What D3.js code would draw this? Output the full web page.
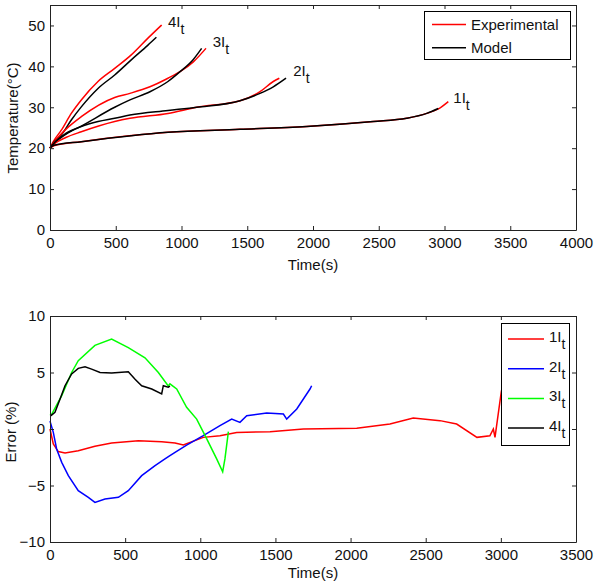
<!DOCTYPE html>
<html><head><meta charset="utf-8">
<script src="https://cdn.jsdelivr.net/npm/d3@7"></script>
<style>
body{margin:0;background:#fff;}
svg{display:block;font-family:"Liberation Sans",Arial,sans-serif;}
</style></head>
<body><svg id="c" width="603" height="586"></svg>
<script>
// ---------- Top chart data: [time (s), temperature (°C)] ----------
const exp4 = [[0,20],[25,21.6],[86,24.4],[162,28.5],[238,31.8],[365,36.3],[492,39.5],[618,42.8],[745,46.9],[849,50.1]];
const mod4 = [[0,20],[25,21.3],[86,23.2],[162,26.9],[238,30.1],[365,34.6],[492,37.9],[618,41.6],[745,45.2],[809,47.1]];
const exp3 = [[0,20],[40,21.8],[120,24.6],[238,27.7],[492,32.4],[608,33.4],[760,35.0],[897,37.1],[989,38.7],[1090,41.1],[1186,44.4]];
const mod3 = [[0,20],[40,21.4],[120,23.4],[238,25.4],[492,30.0],[608,31.8],[760,33.8],[897,36.3],[989,38.7],[1090,41.7],[1153,44.4]];
const exp2 = [[0,20],[40,21.2],[120,22.6],[238,24.0],[492,26.5],[608,27.3],[897,28.5],[1115,30.0],[1445,31.6],[1597,33.8],[1698,36.3],[1744,37.1]];
const mod2 = [[0,20],[40,21.6],[120,23.6],[238,25.3],[365,26.5],[492,27.3],[608,28.1],[897,29.2],[1115,30.0],[1445,31.6],[1597,33.4],[1698,35.0],[1795,37.1]];
const exp1 = [[0,20],[30,20.6],[238,21.6],[897,23.9],[1445,24.6],[1952,25.3],[2459,26.5],[2712,27.3],[2865,28.5],[2953,29.6],[3029,31.4]];
const mod1 = [[0,20],[30,20.7],[238,21.6],[897,23.9],[1445,24.6],[1952,25.3],[2459,26.5],[2712,27.3],[2865,28.5],[2953,29.7]];
const topX = [0,500,1000,1500,2000,2500,3000,3500,4000];
const topY = [0,10,20,30,40,50];
const curveLabels = [["4I",897,49.6],["3I",1237,44.7],["2I",1850,37.7],["1I",3067,31.0]];

// ---------- Bottom chart data: [time (s), error (%)] ----------
const err1 = [[0,0],[22,-1.33],[55,-2.0],[100,-2.12],[188,-1.92],[299,-1.53],[410,-1.24],[588,-1.03],[743,-1.12],[832,-1.24],[887,-1.42],[1020,-0.74],[1131,-0.59],[1242,-0.3],[1464,-0.24],[1686,0],[2041,0.06],[2262,0.44],[2417,0.97],[2595,0.74],[2706,0.44],[2841,-0.74],[2927,-0.6],[2950,0],[2961,-0.74],[3003,3.3],[3030,5]];
const err2 = [[0,0.7],[22,-0.3],[44,-1.77],[78,-2.95],[122,-4.13],[188,-5.46],[255,-6.05],[299,-6.49],[366,-6.19],[455,-6.05],[521,-5.46],[610,-4.13],[699,-3.24],[765,-2.65],[798,-2.36],[832,-2.06],[909,-1.42],[1020,-0.59],[1131,0.3],[1209,0.88],[1264,0.59],[1309,1.18],[1442,1.42],[1553,1.33],[1575,0.88],[1642,1.77],[1730,3.54],[1741,3.83]];
const err3 = [[0,1.2],[11,1.3],[78,2.95],[144,5.0],[188,6.05],[299,7.4],[410,7.96],[521,7.2],[632,6.3],[721,5.0],[787,3.8],[798,4.0],[843,3.54],[909,1.92],[976,0.88],[1043,-0.88],[1109,-2.65],[1149,-3.78],[1164,-2.65],[1187,-0.24]];
const err4 = [[0,1.2],[8,1.2],[33,1.47],[67,2.65],[100,3.83],[144,4.87],[188,5.37],[233,5.5],[277,5.3],[333,5.0],[410,4.96],[521,5.07],[566,4.4],[610,3.83],[677,3.54],[743,3.1],[754,3.83],[787,3.7],[798,3.8]];
const botX = [0,500,1000,1500,2000,2500,3000,3500];
const botY = [-10,-5,0,5,10];
const errNames = ["1I","2I","3I","4I"];
const errColors = ["#ff0000","#0000ff","#00ff00","#000000"];

const svg = d3.select("#c");
const FS = 15;
const AX = "#222";

function frame(g, x, y, xt, yt){
  const [x0,x1] = x.range(), [y0,y1] = y.range();
  g.append("g").attr("transform",`translate(0,${y0})`)
    .call(d3.axisBottom(x).tickValues(xt).tickSizeInner(-4).tickSizeOuter(0).tickPadding(7).tickFormat(d3.format("d")));
  g.append("g").attr("transform",`translate(0,${y1})`)
    .call(d3.axisTop(x).tickValues(xt).tickSizeInner(-4).tickSizeOuter(0).tickFormat(""));
  g.append("g").attr("transform",`translate(${x0},0)`)
    .call(d3.axisLeft(y).tickValues(yt).tickSizeInner(-4).tickSizeOuter(0).tickPadding(5).tickFormat(d3.format("d")));
  g.append("g").attr("transform",`translate(${x1},0)`)
    .call(d3.axisRight(y).tickValues(yt).tickSizeInner(-4).tickSizeOuter(0).tickFormat(""));
  g.selectAll(".domain").attr("stroke",AX);
  g.selectAll(".tick line").attr("stroke",AX);
  g.selectAll(".tick text").attr("font-size",FS).attr("font-family","Liberation Sans, Arial, sans-serif").attr("fill","#111");
}
function subLabel(g, x, y, main){
  const t = g.append("text").attr("x",x).attr("y",y).attr("font-size",FS).attr("fill","#111");
  t.append("tspan").text(main);
  t.append("tspan").attr("dy",7).attr("font-size",FS-1).text("t");
  return t;
}

// ---------- Top chart ----------
const xT = d3.scaleLinear().domain([0,4000]).range([50,576]);
const yT = d3.scaleLinear().domain([0,55]).range([230,5]);
const gT = svg.append("g");
const lineT = d3.line().x(d=>xT(d[0])).y(d=>yT(d[1])).curve(d3.curveMonotoneX);
[[exp4,mod4],[exp3,mod3],[exp2,mod2],[exp1,mod1]].forEach(([e,m])=>{
  gT.append("path").datum(e).attr("d",lineT).attr("fill","none").attr("stroke","#ff0000").attr("stroke-width",1.5);
  gT.append("path").datum(m).attr("d",lineT).attr("fill","none").attr("stroke","#000").attr("stroke-width",1.5);
});
frame(gT, xT, yT, topX, topY);
curveLabels.forEach(([s,t,v])=>subLabel(gT, xT(t), yT(v), s));
gT.append("text").attr("x",313).attr("y",270).attr("text-anchor","middle").attr("font-size",FS).attr("fill","#111").text("Time(s)");
gT.append("text").attr("transform","translate(18,118) rotate(-90)").attr("text-anchor","middle").attr("font-size",FS).attr("fill","#111").text("Temperature(°C)");
// legend top
const lgT = gT.append("g");
lgT.append("rect").attr("x",424.5).attr("y",11.5).attr("width",146).attr("height",48).attr("fill","#fff").attr("stroke","#000");
[["Experimental","#ff0000"],["Model","#000"]].forEach(([n,c],i)=>{
  const cy = 24.5 + i*23.3;
  lgT.append("line").attr("x1",432).attr("x2",466).attr("y1",cy).attr("y2",cy).attr("stroke",c).attr("stroke-width",1.5);
  lgT.append("text").attr("x",471).attr("y",cy+5.5).attr("font-size",FS).attr("fill","#111").text(n);
});

// ---------- Bottom chart ----------
const xB = d3.scaleLinear().domain([0,3500]).range([50,576]);
const yB = d3.scaleLinear().domain([-10,10]).range([542,316]);
const gB = svg.append("g");
const lineB = d3.line().x(d=>xB(d[0])).y(d=>yB(d[1]));
[err1,err2,err3,err4].forEach((s,i)=>{
  gB.append("path").datum(s).attr("d",lineB).attr("fill","none").attr("stroke",errColors[i]).attr("stroke-width",1.5);
});
frame(gB, xB, yB, botX, botY);
gB.append("text").attr("x",313).attr("y",578).attr("text-anchor","middle").attr("font-size",FS).attr("fill","#111").text("Time(s)");
gB.append("text").attr("transform","translate(16,432) rotate(-90)").attr("text-anchor","middle").attr("font-size",FS).attr("fill","#111").text("Error (%)");
const lgB = gB.append("g");
lgB.append("rect").attr("x",501.5).attr("y",323.5).attr("width",68).attr("height",122).attr("fill","#fff").attr("stroke","#000");
errNames.forEach((n,i)=>{
  const cy = 339 + i*29.7;
  lgB.append("line").attr("x1",508).attr("x2",544).attr("y1",cy).attr("y2",cy).attr("stroke",errColors[i]).attr("stroke-width",1.5);
  subLabel(lgB, 549, cy+3, n);
});
</script></body></html>
